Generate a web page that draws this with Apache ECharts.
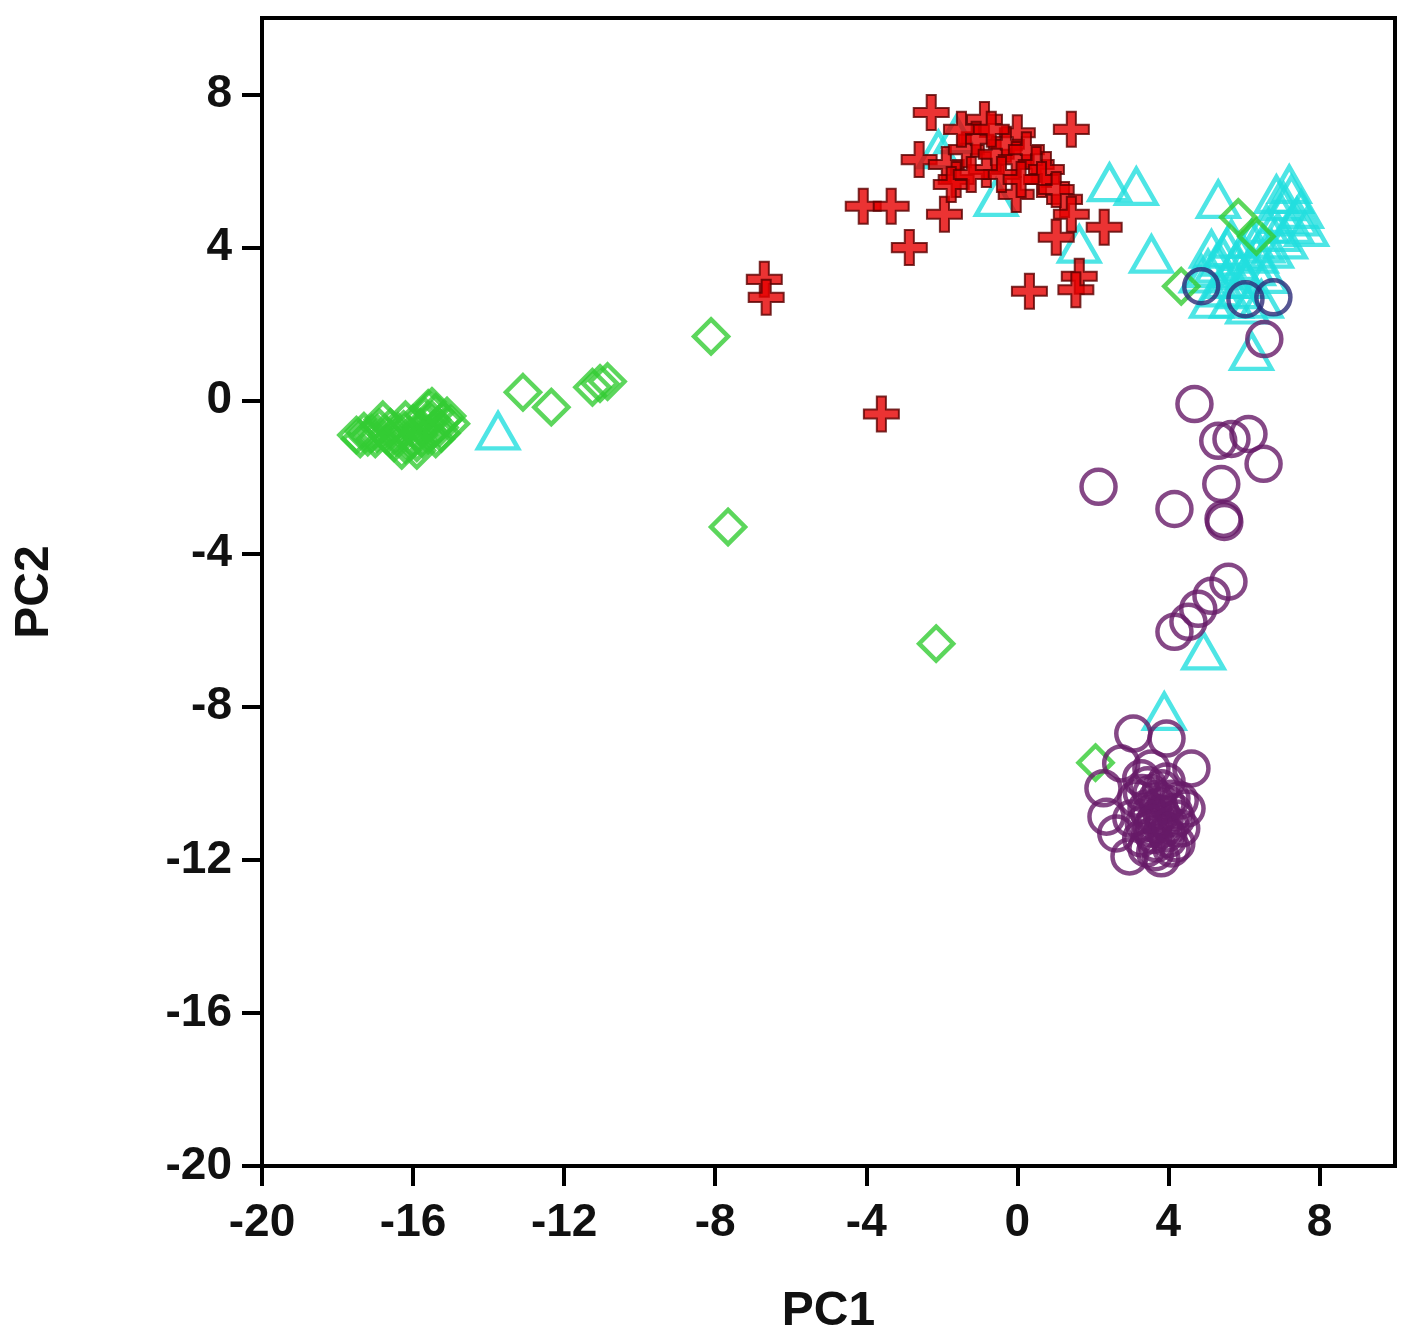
<!DOCTYPE html>
<html>
<head>
<meta charset="utf-8">
<script src="https://cdn.jsdelivr.net/npm/echarts@6/dist/echarts.min.js"></script>
<style>html,body{margin:0;padding:0;background:#fff}#chart{width:1410px;height:1341px}</style>
</head>
<body>
<div id="chart"></div>
<script>
const xTicks = [-20, -16, -12, -8, -4, 0, 4, 8];
const yTicks = [-20, -16, -12, -8, -4, 0, 4, 8];

const trianglePts = [
  [-13.75,-0.79],[-1.62,6.95],[-2.09,6.56],[-0.56,5.31],[1.64,4.09],[2.44,5.70],[3.15,5.60],[3.55,3.83],
  [4.93,-6.54],[3.89,-8.12],
  [5.32,5.26],[7.26,5.39],[7.52,5.0],[7.66,4.53],[6.99,4.87],[6.60,4.61],[7.26,4.61],[6.20,4.22],
  [5.67,4.22],[5.14,3.96],[5.27,3.57],[5.80,3.64],[6.33,3.83],[6.73,3.96],[4.87,3.31],[5.54,3.17],
  [6.07,3.17],[5.14,2.65],[5.67,2.65],[6.20,1.29],[6.46,2.65],[7.2,5.65],[6.86,5.39],
  [7.05,5.2],[7.4,4.8],[6.9,4.4],[6.5,4.1],[5.95,3.9],[5.45,3.75],[5.05,3.45],[5.9,3.4],
  [6.25,3.5],[5.35,2.95],[5.85,2.9],[6.6,3.3],[7.1,4.2],[5.55,4.0],[6.1,2.5]
];

const diamondPts = [
  [-17.5,-0.9],[-17.3,-0.8],[-17.1,-0.85],[-16.9,-0.7],[-17.0,-1.0],[-16.7,-0.9],[-16.5,-1.1],[-16.4,-0.8],
  [-16.3,-1.3],[-16.1,-0.9],[-16.0,-0.6],[-15.9,-1.1],[-15.8,-0.7],[-15.7,-0.4],[-15.6,-0.9],[-15.5,-0.5],
  [-15.4,-0.3],[-15.3,-0.7],[-15.2,-0.5],[-15.0,-0.6],[-15.6,-0.2],[-16.2,-0.5],[-16.8,-0.5],[-15.9,-1.3],[-15.4,-1.0],
  [-17.4,-1.0],[-17.2,-0.95],[-16.95,-0.85],[-16.6,-1.0],[-16.45,-0.95],[-16.2,-1.15],[-16.05,-1.05],[-15.85,-0.9],
  [-15.65,-0.6],[-15.45,-0.75],[-15.25,-0.85],[-15.1,-0.4],[-15.75,-1.0],[-16.25,-0.75],[-16.6,-0.7],[-15.5,-0.15],
  [-13.09,0.22],[-12.34,-0.17],[-11.25,0.35],[-11.05,0.45],[-10.85,0.5],[-8.11,1.68],[-7.66,-3.30],
  [-2.15,-6.35],[2.07,-9.46],[4.34,2.99],[5.85,4.79],[6.33,4.29]
];

const circlePts = [
  [4.69,-0.09],[5.32,-1.05],[5.67,-1.0],[6.12,-0.87],[6.52,-1.65],[5.40,-2.18],[5.48,-3.17],[5.46,-3.09],
  [4.16,-2.83],[2.15,-2.25],[5.59,-4.73],[5.14,-5.10],[4.79,-5.44],[4.53,-5.78],[4.16,-6.04],[6.54,1.61],
  [3.07,-8.70],[3.95,-8.83],[4.61,-9.61],[2.28,-10.13],[2.36,-10.87],[2.62,-11.31],[2.97,-11.91],[2.75,-9.48],
  [3.28,-9.87],[3.55,-10.26],[3.81,-10.13],[4.08,-10.40],[3.42,-10.66],[3.81,-10.79],[4.21,-10.92],[3.55,-11.18],
  [3.95,-11.31],[4.34,-11.18],[3.68,-11.57],[4.08,-11.70],[3.42,-11.70],[3.81,-11.96],[4.48,-10.66],[3.15,-10.40],
  [4.21,-11.57],[3.55,-9.61],[3.02,-10.92],[3.28,-11.44],[3.95,-10.53],[3.68,-10.92],
  [3.45,-10.05],[3.7,-10.4],[3.9,-10.95],[4.0,-11.45],[3.6,-11.35],[3.35,-11.05],[3.75,-10.6],[4.15,-10.75],
  [3.5,-10.8],[3.85,-11.2],[3.65,-11.8],[4.3,-10.45],[3.3,-10.25],[3.95,-9.95],[3.6,-11.05],[4.05,-11.1]
];

const circleNavyPts = [[4.87,2.99],[6.04,2.65],[6.78,2.7]];

const crossPts = [
  [-2.28,7.53],[-0.87,7.35],[0,7.0],[1.43,7.09],[-2.6,6.30],[-4.08,5.08],[-3.34,5.08],[-2.86,4.0],
  [-1.93,4.87],[-0.03,5.39],[1.25,5.26],[1.43,4.87],[1.03,4.27],[2.30,4.53],[1.64,3.25],[1.55,2.9],
  [0.32,2.86],[-1.88,6.17],[-1.62,5.78],[-1.35,6.56],[-1.09,6.83],[-0.82,6.04],[-0.56,6.44],[-0.29,6.70],
  [-0.03,6.30],[0.24,6.56],[0.5,6.17],[0.77,6.04],[0.64,5.78],[-1.48,7.09],[-1.75,5.65],[-0.42,5.91],
  [-0.69,7.09],[0.1,5.78],[-1.22,5.91],[1.03,5.52],[-6.70,3.17],[-6.65,2.70],[-3.60,-0.35]
];

const FONT = '"Liberation Sans", Arial, sans-serif';
const labelStyle = { fontSize: 46, fontWeight: 'bold', fontFamily: FONT, color: '#111' };

function axis(ticks, name, gap, margin) {
  return {
    type: 'value', min: -20, max: 10, interval: 4,
    name: name, nameLocation: 'middle', nameGap: gap,
    nameTextStyle: { fontSize: 48, fontWeight: 'bold', fontFamily: FONT, color: '#111' },
    axisLine: { show: true, onZero: false, lineStyle: { color: '#000', width: 4 } },
    axisTick: { show: true, length: 20, lineStyle: { color: '#000', width: 4 }, customValues: ticks },
    axisLabel: Object.assign({ customValues: ticks, margin: margin }, labelStyle),
    splitLine: { show: false }
  };
}

const chart = echarts.init(document.getElementById('chart'));
chart.setOption({
  animation: false,
  backgroundColor: '#fff',
  grid: { left: 262, right: 15, top: 18, bottom: 173, show: true, borderColor: '#000', borderWidth: 4 },
  xAxis: axis(xTicks, 'PC1', 122, 34),
  yAxis: axis(yTicks, 'PC2', 203, 30),
  series: [
    { type: 'scatter', data: trianglePts, symbol: 'triangle', symbolSize: [40, 35],
      itemStyle: { color: 'rgba(0,0,0,0)', borderColor: '#22dede', borderWidth: 4.5 } },
    { type: 'scatter', data: diamondPts, symbol: 'diamond', symbolSize: [34, 34],
      itemStyle: { color: 'rgba(0,0,0,0)', borderColor: '#33cc33', borderWidth: 4.5 } },
    { type: 'scatter', data: circlePts, symbol: 'circle', symbolSize: 34,
      itemStyle: { color: 'rgba(0,0,0,0)', borderColor: '#661a68', borderWidth: 4.5 } },
    { type: 'scatter', data: circleNavyPts, symbol: 'circle', symbolSize: 34,
      itemStyle: { color: 'rgba(0,0,0,0)', borderColor: '#2c2a78', borderWidth: 4.5 } },
    { type: 'scatter', data: crossPts,
      symbol: 'path://M3.7,0 L6.3,0 L6.3,3.7 L10,3.7 L10,6.3 L6.3,6.3 L6.3,10 L3.7,10 L3.7,6.3 L0,6.3 L0,3.7 L3.7,3.7 Z',
      symbolSize: 35,
      itemStyle: { color: '#e60000', borderColor: '#5a0000', borderWidth: 2 } }
  ]
});
</script>
</body>
</html>
